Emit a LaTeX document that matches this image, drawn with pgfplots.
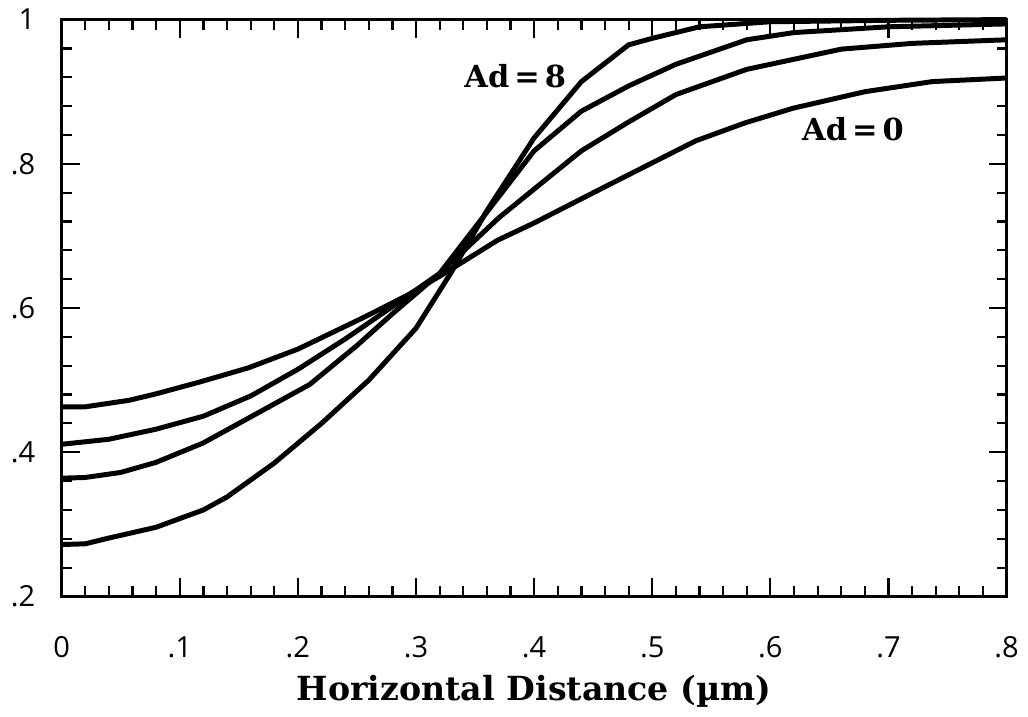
\documentclass[border=0pt]{standalone}
\usepackage{fontspec}
\setmainfont{DejaVu Serif}
\setsansfont{Open Sans}
\usepackage{pgfplots}
\pgfplotsset{compat=1.18}

\begin{document}
\begin{tikzpicture}
\begin{axis}[
  scale only axis,
  width=341.7pt, height=208.6pt,
  xmin=0, xmax=0.8, ymin=0.2, ymax=1,
  clip=false,
  axis line style={line width=1.1pt},
  xtick={0,0.1,...,0.8},
  xticklabels={0,.1,.2,.3,.4,.5,.6,.7,.8},
  ytick={0.2,0.4,0.6,0.8,1},
  yticklabels={.2,.4,.6,.8,1},
  minor x tick num=4,
  minor y tick num=4,
  tick align=inside,
  xtick pos=both, ytick pos=both,
  major tick length=6.5pt,
  minor tick length=3.6pt,
  tick style={line width=0.8pt, black},
  tick label style={font=\sffamily\fontsize{10.5}{12}\selectfont},
  xticklabel style={yshift=-11pt},
  yticklabel style={xshift=-6pt},
  xlabel={Horizontal Distance (µm)},
  xlabel style={font=\bfseries\fontsize{12}{14}\selectfont,
    at={(axis description cs:0.5,0)}, anchor=north, yshift=-25pt},
  profile/.style={line width=1.8pt, black, no markers, line join=round},
]
% Ad = 8
\addplot[profile] coordinates {
  (0,0.272) (0.02,0.273) (0.04,0.281) (0.08,0.296) (0.12,0.320) (0.14,0.338)
  (0.18,0.385) (0.22,0.440) (0.26,0.500) (0.30,0.572) (0.33,0.650) (0.36,0.735)
  (0.40,0.836) (0.44,0.914) (0.48,0.965) (0.50,0.974) (0.54,0.990) (0.60,0.997)
  (0.70,0.999) (0.80,1.0)};
% intermediate Ad
\addplot[profile] coordinates {
  (0,0.364) (0.02,0.365) (0.05,0.372) (0.08,0.386) (0.12,0.413) (0.16,0.449)
  (0.21,0.494) (0.25,0.548) (0.28,0.592) (0.32,0.648) (0.36,0.733) (0.40,0.818)
  (0.44,0.873) (0.48,0.908) (0.52,0.938) (0.58,0.972) (0.62,0.982) (0.70,0.990)
  (0.80,0.994)};
\addplot[profile] coordinates {
  (0,0.411) (0.04,0.418) (0.08,0.432) (0.12,0.450) (0.16,0.478) (0.20,0.515)
  (0.24,0.557) (0.28,0.602) (0.32,0.648) (0.37,0.725) (0.40,0.765) (0.44,0.818)
  (0.48,0.858) (0.52,0.896) (0.58,0.931) (0.62,0.945) (0.66,0.959) (0.72,0.967)
  (0.80,0.972)};
% Ad = 0
\addplot[profile] coordinates {
  (0,0.463) (0.02,0.463) (0.057,0.472) (0.08,0.481) (0.116,0.497) (0.158,0.517)
  (0.20,0.543) (0.257,0.588) (0.293,0.618) (0.321,0.645) (0.369,0.694) (0.40,0.718)
  (0.467,0.774) (0.537,0.832) (0.579,0.857) (0.619,0.877) (0.68,0.900) (0.737,0.914)
  (0.80,0.919)};
\node[font=\bfseries\fontsize{11}{13}\selectfont] at (axis cs:0.384,0.921) {Ad\,=\,8};
\node[font=\bfseries\fontsize{11}{13}\selectfont] at (axis cs:0.670,0.848) {Ad\,=\,0};
% page extent
\path (rel axis cs:-0.06526,-0.19655) rectangle (rel axis cs:1.01684,1.03103);
\end{axis}
\end{tikzpicture}
\end{document}
